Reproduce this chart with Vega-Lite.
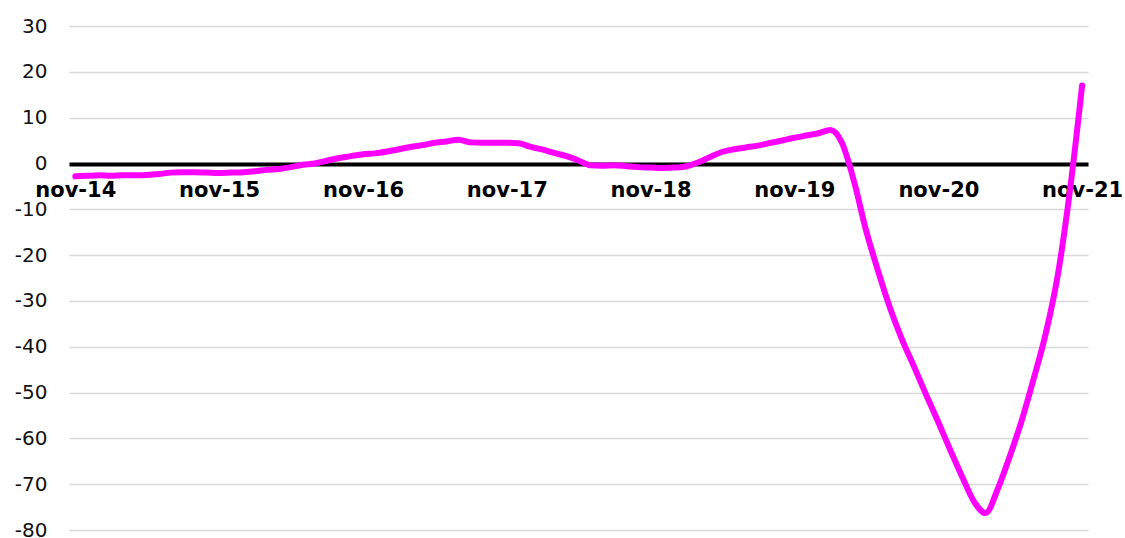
{
  "$schema": "https://vega.github.io/schema/vega-lite/v6.json",
  "width": 1019,
  "height": 504,
  "autosize": "none",
  "padding": {"left": 69, "top": 26, "right": 37, "bottom": 8},
  "background": "white",
  "config": {"view": {"stroke": null}, "font": "DejaVu Sans"},
  "data": {"values": [
    {"date": "2014-11-01", "value": -2.8},
    {"date": "2014-12-01", "value": -2.7},
    {"date": "2015-01-01", "value": -2.6},
    {"date": "2015-02-01", "value": -2.7},
    {"date": "2015-03-01", "value": -2.6},
    {"date": "2015-04-01", "value": -2.6},
    {"date": "2015-05-01", "value": -2.5},
    {"date": "2015-06-01", "value": -2.3},
    {"date": "2015-07-01", "value": -2.0},
    {"date": "2015-08-01", "value": -1.9},
    {"date": "2015-09-01", "value": -1.9},
    {"date": "2015-10-01", "value": -2.0},
    {"date": "2015-11-01", "value": -2.1},
    {"date": "2015-12-01", "value": -2.0},
    {"date": "2016-01-01", "value": -1.9},
    {"date": "2016-02-01", "value": -1.7},
    {"date": "2016-03-01", "value": -1.4},
    {"date": "2016-04-01", "value": -1.2},
    {"date": "2016-05-01", "value": -0.8},
    {"date": "2016-06-01", "value": -0.3},
    {"date": "2016-07-01", "value": 0.0},
    {"date": "2016-08-01", "value": 0.6},
    {"date": "2016-09-01", "value": 1.2},
    {"date": "2016-10-01", "value": 1.6},
    {"date": "2016-11-01", "value": 2.0},
    {"date": "2016-12-01", "value": 2.2},
    {"date": "2017-01-01", "value": 2.6},
    {"date": "2017-02-01", "value": 3.1},
    {"date": "2017-03-01", "value": 3.6},
    {"date": "2017-04-01", "value": 4.0},
    {"date": "2017-05-01", "value": 4.5},
    {"date": "2017-06-01", "value": 4.8},
    {"date": "2017-07-01", "value": 5.2},
    {"date": "2017-08-01", "value": 4.6},
    {"date": "2017-09-01", "value": 4.5},
    {"date": "2017-10-01", "value": 4.5},
    {"date": "2017-11-01", "value": 4.5},
    {"date": "2017-12-01", "value": 4.4},
    {"date": "2018-01-01", "value": 3.6},
    {"date": "2018-02-01", "value": 3.0},
    {"date": "2018-03-01", "value": 2.3},
    {"date": "2018-04-01", "value": 1.6},
    {"date": "2018-05-01", "value": 0.7},
    {"date": "2018-06-01", "value": -0.4},
    {"date": "2018-07-01", "value": -0.5},
    {"date": "2018-08-01", "value": -0.4},
    {"date": "2018-09-01", "value": -0.6},
    {"date": "2018-10-01", "value": -0.8},
    {"date": "2018-11-01", "value": -0.9},
    {"date": "2018-12-01", "value": -1.0},
    {"date": "2019-01-01", "value": -0.9},
    {"date": "2019-02-01", "value": -0.6},
    {"date": "2019-03-01", "value": 0.2},
    {"date": "2019-04-01", "value": 1.4},
    {"date": "2019-05-01", "value": 2.5},
    {"date": "2019-06-01", "value": 3.1},
    {"date": "2019-07-01", "value": 3.5},
    {"date": "2019-08-01", "value": 3.9},
    {"date": "2019-09-01", "value": 4.5},
    {"date": "2019-10-01", "value": 5.0},
    {"date": "2019-11-01", "value": 5.6},
    {"date": "2019-12-01", "value": 6.1},
    {"date": "2020-01-01", "value": 6.6},
    {"date": "2020-02-01", "value": 7.3},
    {"date": "2020-03-01", "value": 4.5},
    {"date": "2020-04-01", "value": -4.0},
    {"date": "2020-05-01", "value": -14.5},
    {"date": "2020-06-01", "value": -23.5},
    {"date": "2020-07-01", "value": -31.5},
    {"date": "2020-08-01", "value": -38.5},
    {"date": "2020-09-01", "value": -44.5},
    {"date": "2020-10-01", "value": -50.5},
    {"date": "2020-11-01", "value": -56.5},
    {"date": "2020-12-01", "value": -62.5},
    {"date": "2021-01-01", "value": -68.5},
    {"date": "2021-02-01", "value": -74.0},
    {"date": "2021-03-01", "value": -76.3},
    {"date": "2021-04-01", "value": -71.0},
    {"date": "2021-05-01", "value": -64.0},
    {"date": "2021-06-01", "value": -56.0},
    {"date": "2021-07-01", "value": -47.0},
    {"date": "2021-08-01", "value": -37.0},
    {"date": "2021-09-01", "value": -24.0},
    {"date": "2021-10-01", "value": -6.0},
    {"date": "2021-11-01", "value": 17.0}
  ]},
  "mark": {"type": "line", "color": "#ff00ff", "strokeWidth": 6, "interpolate": "monotone", "strokeCap": "round", "strokeJoin": "round"},
  "encoding": {
    "x": {
      "field": "date",
      "type": "temporal",
      "scale": {"type": "utc", "domain": [{"year": 2014, "month": 10, "date": 16, "utc": true}, {"year": 2021, "month": 11, "date": 16, "utc": true}]},
      "axis": {
        "title": null,
        "values": [
          {"year": 2014, "month": 11, "date": 1, "utc": true},
          {"year": 2015, "month": 11, "date": 1, "utc": true},
          {"year": 2016, "month": 11, "date": 1, "utc": true},
          {"year": 2017, "month": 11, "date": 1, "utc": true},
          {"year": 2018, "month": 11, "date": 1, "utc": true},
          {"year": 2019, "month": 11, "date": 1, "utc": true},
          {"year": 2020, "month": 11, "date": 1, "utc": true},
          {"year": 2021, "month": 11, "date": 1, "utc": true}
        ],
        "labelExpr": "lower(utcFormat(datum.value, '%b-%y'))",
        "grid": false,
        "ticks": false,
        "offset": -366,
        "domainColor": "#000000",
        "domainWidth": 4,
        "labelFont": "DejaVu Sans",
        "labelFontSize": 21,
        "labelFontWeight": "bold",
        "labelColor": "#000000",
        "labelPadding": 15,
        "labelOverlap": false,
        "labelBound": false,
        "labelFlush": false
      }
    },
    "y": {
      "field": "value",
      "type": "quantitative",
      "scale": {"domain": [-80, 30], "nice": false, "zero": false},
      "axis": {
        "title": null,
        "values": [-80, -70, -60, -50, -40, -30, -20, -10, 0, 10, 20, 30],
        "labelExpr": "'' + datum.value",
        "domain": false,
        "ticks": false,
        "gridColor": "#d9d9d9",
        "gridWidth": 1.5,
        "labelFont": "DejaVu Sans",
        "labelFontSize": 20,
        "labelColor": "#111111",
        "labelPadding": 22
      }
    }
  }
}
